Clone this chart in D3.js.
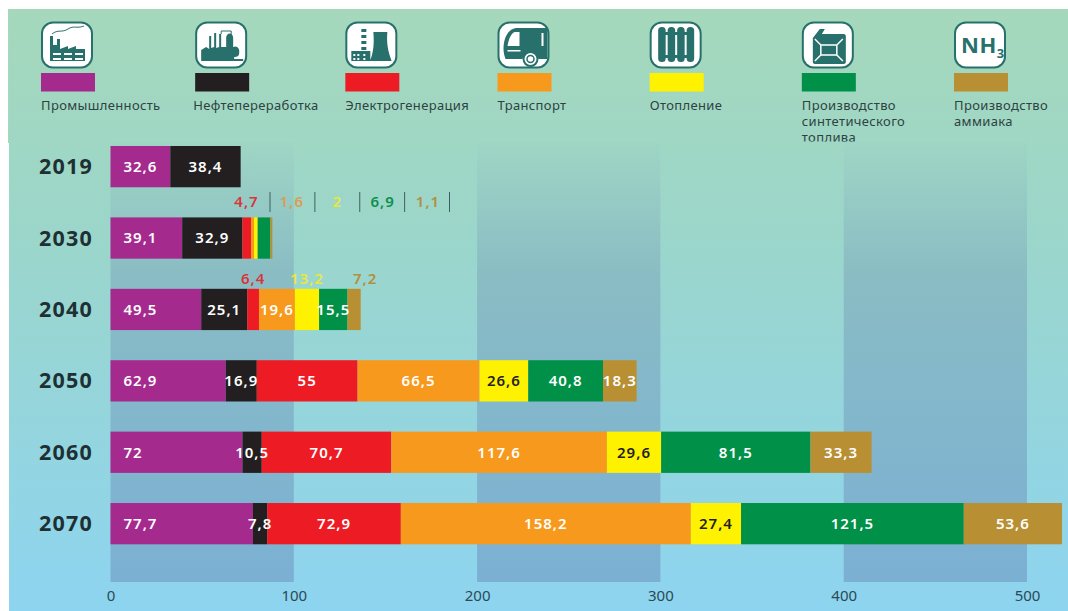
<!DOCTYPE html>
<html>
<head>
<meta charset="utf-8">
<style>
  html, body { margin: 0; padding: 0; background: #fff; }
  svg { display: block; }
  text { font-family: "Noto Sans", sans-serif; }
</style>
<script src="https://cdn.jsdelivr.net/npm/d3@7"></script>
</head>
<body>
<div id="chart"></div>
<script>
// Values
var years = ["2019", "2030", "2040", "2050", "2060", "2070"];
var industry = [32.6, 39.1, 49.5, 62.9, 72, 77.7];
var refining = [38.4, 32.9, 25.1, 16.9, 10.5, 7.8];
var power = [0, 4.7, 6.4, 55, 70.7, 72.9];
var transport = [0, 1.6, 19.6, 66.5, 117.6, 158.2];
var heating = [0, 2, 13.2, 26.6, 29.6, 27.4];
var synfuel = [0, 6.9, 15.5, 40.8, 81.5, 121.5];
var ammonia = [0, 1.1, 7.2, 18.3, 33.3, 53.6];
var xTicks = [0, 100, 200, 300, 400, 500];

var seriesNames = ["Промышленность", "Нефтепереработка", "Электрогенерация", "Транспорт", "Отопление",
    "Производство синтетического топлива", "Производство аммиака"];
var legendLines = [["Промышленность"], ["Нефтепереработка"], ["Электрогенерация"], ["Транспорт"], ["Отопление"],
    ["Производство", "синтетического", "топлива"], ["Производство", "аммиака"]];
var seriesValues = [industry, refining, power, transport, heating, synfuel, ammonia];
var colors = ["#a52a8e", "#231f20", "#ed1c24", "#f7991d", "#fff200", "#009048", "#b88f33"];
var stripColors = ["#d8343a", "#d8a050", "#e8e83a", "#0e8f4f", "#b09040"]; // small 2030 numbers
var raisedColors = {2: "#d8343a", 4: "#e8e83a", 6: "#b09040"}; // 2040 numbers above the bar

var width = 1068, height = 611;
var teal = "#28706c";

var svg = d3.select("#chart").append("svg")
    .attr("width", width)
    .attr("height", height);

var defs = svg.append("defs");

// Background gradient and the darker 100-wide bands
var bgGrad = defs.append("linearGradient").attr("id", "bg")
    .attr("x1", 0).attr("y1", 0).attr("x2", 0).attr("y2", 1);
bgGrad.append("stop").attr("offset", 0).attr("stop-color", "#a5d8bb");
bgGrad.append("stop").attr("offset", 0.4).attr("stop-color", "#9bd6cc");
bgGrad.append("stop").attr("offset", 1).attr("stop-color", "#8dd4f0");

var bandGrad = defs.append("linearGradient").attr("id", "band")
    .attr("x1", 0).attr("y1", 0).attr("x2", 0).attr("y2", 1);
bandGrad.append("stop").attr("offset", 0).attr("stop-color", "#6e8fb0").attr("stop-opacity", 0.02);
bandGrad.append("stop").attr("offset", 0.3).attr("stop-color", "#6e8fb0").attr("stop-opacity", 0.36);
bandGrad.append("stop").attr("offset", 1).attr("stop-color", "#6a90bc").attr("stop-opacity", 0.53);

defs.append("clipPath").attr("id", "legendClip")
    .append("rect").attr("x", 0).attr("y", 0).attr("width", width).attr("height", 141.5);

svg.append("rect").attr("x", 8).attr("y", 9).attr("width", width - 8).attr("height", 134).attr("fill", "#a5d8bd");
svg.append("rect").attr("x", 9).attr("y", 9).attr("width", width - 9).attr("height", height - 9).attr("fill", "url(#bg)");

// Scales
var x = d3.scaleLinear().domain([0, 500]).range([110.5, 1027]);
var y = d3.scaleBand().domain(years).range([146, 544.3]).paddingInner(0.422);

// Bands behind the bars
svg.append("g").selectAll("rect")
    .data([0, 200, 400])
    .enter()
    .append("rect")
    .attr("x", function(d) { return x(d); })
    .attr("width", function(d) { return x(d + 100) - x(d); })
    .attr("y", 142)
    .attr("height", 440)
    .attr("fill", "url(#band)");

// Stack the series
var table = years.map(function(year, i) {
    var row = {year: year};
    seriesNames.forEach(function(name, s) { row[name] = seriesValues[s][i]; });
    return row;
});
var stacked = d3.stack().keys(seriesNames)(table);

var layers = svg.append("g").selectAll("g")
    .data(stacked)
    .enter()
    .append("g")
    .attr("fill", function(d, s) { return colors[s]; });

layers.selectAll("rect")
    .data(function(d) { return d; })
    .enter()
    .append("rect")
    .attr("x", function(d) { return x(d[0]); })
    .attr("width", function(d) { return x(d[1]) - x(d[0]); })
    .attr("y", function(d) { return y(d.data.year); })
    .attr("height", y.bandwidth());

function fmt(v) {
    return String(v).replace(".", ",");
}

function valueLabel(sel) {
    return sel.attr("font-size", 15)
        .attr("font-weight", 600)
        .attr("letter-spacing", 1)
        .attr("dy", ".35em");
}

// Numbers inside and above the bars
stacked.forEach(function(layer, s) {
    layer.forEach(function(d, i) {
        var year = years[i];
        var v = seriesValues[s][i];
        if (!v || (year == "2030" && s >= 2)) return;

        var cx = (x(d[0]) + x(d[1])) / 2;
        var cy = y(year) + y.bandwidth() / 2;
        var raised = year == "2040" && raisedColors[s];
        var t = svg.append("text").text(fmt(v)).call(valueLabel);

        if (raised) {
            // too narrow for the number, so it sits over the bar
            t.attr("x", s == 6 ? cx + 11 : cx)
                .attr("y", y(year) - 10)
                .attr("text-anchor", "middle")
                .attr("fill", raised);
        } else if (s == 0 && year != "2019") {
            t.attr("x", x(0) + 13).attr("y", cy).attr("fill", "#fff");
        } else {
            t.attr("x", cx)
                .attr("y", cy)
                .attr("text-anchor", "middle")
                .attr("fill", s == 4 ? "#231f20" : "#fff");
        }
    });
});

// Row of small 2030 numbers, split by thin lines
var stripIdx = years.indexOf("2030");
var stripSeries = [power, transport, heating, synfuel, ammonia];
var stripX = d3.scaleLinear().domain([0, 4]).range([246.5, 428]);
var stripLineX = d3.scaleLinear().domain([0, 4]).range([270, 449.5]);
var stripY = 202;

stripSeries.forEach(function(values, i) {
    svg.append("text").text(fmt(values[stripIdx])).call(valueLabel)
        .attr("x", stripX(i))
        .attr("y", stripY)
        .attr("text-anchor", "middle")
        .attr("fill", stripColors[i]);
    svg.append("line")
        .attr("x1", stripLineX(i)).attr("x2", stripLineX(i))
        .attr("y1", stripY - 10).attr("y2", stripY + 10)
        .attr("stroke", "#3e5f63")
        .attr("stroke-width", 1);
});

// Year labels
svg.append("g").selectAll("text")
    .data(years)
    .enter()
    .append("text")
    .text(function(d) { return d; })
    .attr("x", 66)
    .attr("y", function(d) { return y(d) + y.bandwidth() / 2; })
    .attr("dy", ".35em")
    .attr("text-anchor", "middle")
    .attr("font-size", 21.5)
    .attr("font-weight", 700)
    .attr("letter-spacing", 1.2)
    .attr("fill", "#1e3034");

// X axis (only its labels are visible)
var xAxis = svg.append("g")
    .attr("transform", "translate(0,587)")
    .call(d3.axisBottom(x).tickValues(xTicks).tickSize(0).tickPadding(3));
xAxis.select(".domain").remove();
xAxis.selectAll("text")
    .attr("font-family", '"Noto Sans", sans-serif')
    .attr("font-size", 15)
    .attr("fill", "#2a4a55");

// Legend
var legendX = d3.scaleLinear().domain([0, 6]).range([41, 954]);
var legend = svg.append("g").attr("clip-path", "url(#legendClip)");

var icons = [
    // factory
    function(g) {
        g.append("path").attr("fill", teal).attr("d", "M8 39V14h3v9h4V17h3v10l8-3v3l8-3v3h9v12Z");
        g.append("path").attr("fill", "#fff").attr("d", "M11 31h8v2h-8ZM22 31h8v2h-8ZM33 31h8v2h-8ZM11 36h8v2h-8ZM22 36h8v2h-8ZM33 36h8v2h-8Z");
        g.append("path").attr("fill", "none").attr("stroke", teal).attr("stroke-width", 1)
            .attr("d", "M10 12c6-5 10-1 16-5s8 0 16-3");
    },
    // refinery
    function(g) {
        g.append("path").attr("fill", teal).attr("d", "M5 37V28l5-3 3 2V14h2v12l3-1V11h2v15l3-1V12h2v13h5v-9c0-6 7-6 7 0v9c4-2 7 2 6 6 0 3-2 4-5 4v2h9v2H5Z");
        g.append("path").attr("fill", "none").attr("stroke", teal).attr("stroke-width", 1).attr("d", "M25 12V9h10v4");
    },
    // power plant
    function(g) {
        g.append("path").attr("fill", teal).attr("d", "M15 7h5v3h-5ZM15 13h5v3h-5ZM15 19h5v3h-5ZM15 25h5v3h-5ZM27 10h14c-1 12 1 20 4 28v1H24v-1c3-8 4-16 3-28ZM5 29h19v10H5Z");
        g.append("path").attr("fill", "#fff").attr("d", "M7 32h2v2H7ZM11 32h2v2h-2ZM17 32h2v2h-2ZM7 36h2v2H7ZM11 36h2v2h-2ZM17 36h2v2h-2Z");
    },
    // bus
    function(g) {
        g.append("path").attr("fill", teal).attr("d", "M5 27c0-10 4-20 13-21h31v31H40c-2-8-14-8-16 0H7c-1-3-2-6-2-10Z");
        g.append("path").attr("fill", "#fff").attr("d", "M9 24c1-6 3-12 7-14h5v14ZM43 11h2v13h-2ZM9 28h13v1.5H9Z");
        g.append("circle").attr("cx", 32).attr("cy", 37).attr("r", 7).attr("fill", "#fff").attr("stroke", teal).attr("stroke-width", 2);
        g.append("circle").attr("cx", 32).attr("cy", 37).attr("r", 3.5).attr("fill", "#fff").attr("stroke", teal).attr("stroke-width", 1.5);
    },
    // radiator
    function(g) {
        g.selectAll("rect.fin").data(d3.range(4)).enter().append("rect")
            .attr("x", function(d) { return 7.5 + d * 9.5; })
            .attr("y", 5).attr("width", 7.5).attr("height", 35).attr("rx", 3.5)
            .attr("fill", teal);
        g.append("path").attr("fill", teal).attr("d", "M9 10h32v3H9ZM9 33h32v3H9Z");
    },
    // jerry can
    function(g) {
        g.append("path").attr("fill", teal).attr("d", "M10 16l7-9h5l-3 5h22c1 0 2 1 2 2v26c0 1-1 2-2 2H12c-1 0-2-1-2-2Z");
        g.append("path").attr("fill", "#fff").attr("d", "M25 6h13v5H25Z");
        g.append("path").attr("fill", "none").attr("stroke", "#fff").attr("stroke-width", 1.5)
            .attr("d", "M12 17l6 6h16l6-6M12 39l6-6h16l6 6M18 23v10M34 23v10");
    },
    // ammonia formula
    function(g) {
        var t = g.append("text").attr("x", 6).attr("y", 31).attr("font-size", 22).attr("font-weight", 700)
            .attr("fill", teal).attr("letter-spacing", 0.5);
        t.append("tspan").text("NH");
        t.append("tspan").attr("dy", 5).attr("font-size", 13).text("3");
    }
];

var items = legend.selectAll("g")
    .data(legendLines)
    .enter()
    .append("g")
    .attr("transform", function(d, i) { return "translate(" + legendX(i) + ",0)"; });

// second column's icon and swatch sit a little right of its caption
function markShift(i) {
    return i == 1 ? 2 : 0;
}

items.append("rect")
    .attr("x", function(d, i) { return 1 + markShift(i); })
    .attr("y", 22.5)
    .attr("width", 50).attr("height", 45).attr("rx", 11)
    .attr("fill", "#fff")
    .attr("stroke", teal)
    .attr("stroke-width", 2);

items.each(function(d, i) {
    var g = d3.select(this).append("g").attr("transform", "translate(" + (1 + markShift(i)) + ",22)");
    icons[i](g);
});

items.append("rect")
    .attr("x", function(d, i) { return markShift(i); })
    .attr("y", 73)
    .attr("width", 54)
    .attr("height", 18.5)
    .attr("fill", function(d, i) { return colors[i]; });

// one caption per item, wrapped with tspans
var captions = items.append("text")
    .attr("y", 110)
    .attr("font-size", 13)
    .attr("letter-spacing", 0.35)
    .attr("fill", "#2d4242");

captions.selectAll("tspan")
    .data(function(d) { return d; })
    .enter()
    .append("tspan")
    .attr("x", 0)
    .attr("dy", function(d, i) { return i == 0 ? 0 : 15.8; })
    .text(function(d) { return d; });
</script>
</body>
</html>
